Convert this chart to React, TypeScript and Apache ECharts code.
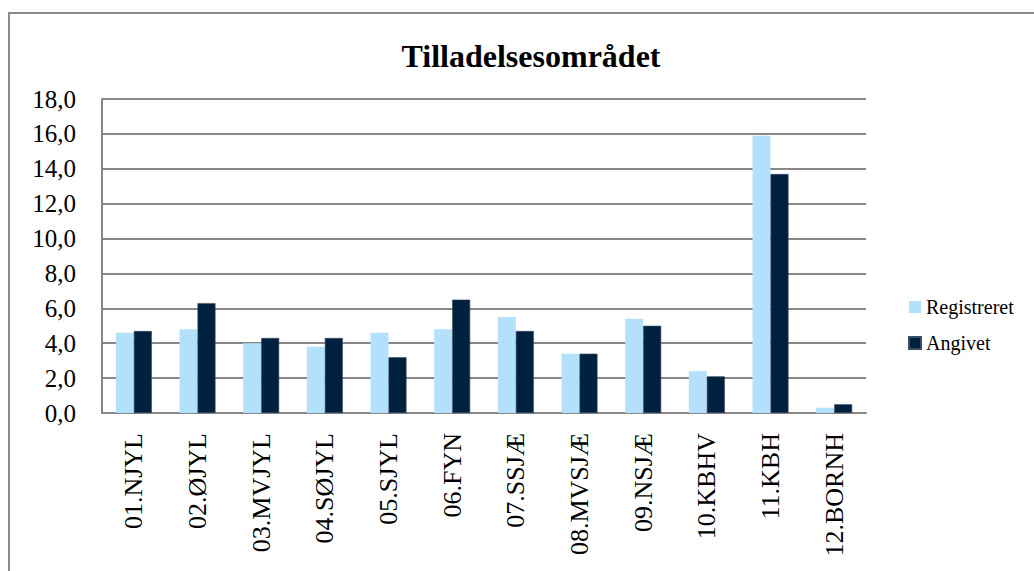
import React, { useEffect, useRef } from "react";
import * as echarts from "echarts";

const categories = [
  "01.NJYL",
  "02.ØJYL",
  "03.MVJYL",
  "04.SØJYL",
  "05.SJYL",
  "06.FYN",
  "07.SSJÆ",
  "08.MVSJÆ",
  "09.NSJÆ",
  "10.KBHV",
  "11.KBH",
  "12.BORNH",
];
const registreret = [4.6, 4.8, 4.0, 3.8, 4.6, 4.8, 5.5, 3.4, 5.4, 2.4, 15.9, 0.3];
const angivet = [4.7, 6.3, 4.3, 4.3, 3.2, 6.5, 4.7, 3.4, 5.0, 2.1, 13.7, 0.5];
const seriesNames = ["Registreret", "Angivet"];
const titleText = "Tilladelsesområdet";
const yMin = 0;
const yMax = 18;
const yInterval = 2;

const SERIF = "Liberation Serif";

export default function App() {
  const ref = useRef<HTMLDivElement>(null);
  useEffect(() => {
    if (!ref.current) return;
    const chart = echarts.init(ref.current, null, { renderer: "svg" });
    chart.setOption({
      animation: false,
      backgroundColor: "#ffffff",
      textStyle: { fontFamily: SERIF },
      title: {
        text: titleText,
        left: 526,
        textAlign: "center",
        top: 35,
        textStyle: {
          fontFamily: SERIF,
          fontWeight: "bold",
          fontSize: 32,
          color: "#000",
        },
      },
      legend: {
        orient: "vertical",
        left: 903,
        top: 292,
        itemWidth: 12,
        itemHeight: 12,
        itemGap: 16,
        icon: "rect",
        data: seriesNames,
        textStyle: {
          fontFamily: SERIF,
          fontSize: 20,
          color: "#000",
        },
      },
      grid: {
        left: 102,
        right: 168,
        top: 99,
        height: 314,
        containLabel: false,
      },
      xAxis: {
        type: "category",
        data: categories,
        axisLine: { show: true, lineStyle: { color: "#878787", width: 2 } },
        axisTick: { show: false },
        axisLabel: {
          rotate: 90,
          interval: 0,
          margin: 20,
          fontFamily: SERIF,
          fontSize: 26,
          color: "#000",
        },
      },
      yAxis: {
        type: "value",
        min: yMin,
        max: yMax,
        interval: yInterval,
        axisLine: { show: true, lineStyle: { color: "#878787", width: 2 } },
        axisTick: { show: false },
        splitLine: { show: true, lineStyle: { color: "#878787", width: 2 } },
        axisLabel: {
          margin: 26,
          fontFamily: SERIF,
          fontSize: 25,
          color: "#000",
          formatter: (v: number) => v.toFixed(1).replace(".", ","),
        },
      },
      series: [
        {
          name: seriesNames[0],
          type: "bar",
          data: registreret,
          barWidth: 18,
          barGap: "0%",
          itemStyle: { color: "#B3E1FC" },
        },
        {
          name: seriesNames[1],
          type: "bar",
          data: angivet,
          barWidth: 18,
          barGap: "0%",
          itemStyle: { color: "#00203F", borderColor: "#3a4d62", borderWidth: 0.6 },
        },
      ],
      graphic: [
        {
          type: "rect",
          shape: { x: 9, y: 13, width: 1040, height: 600 },
          style: { fill: "none", stroke: "#8a8a8a", lineWidth: 2 },
          silent: true,
        },
      ],
    });
    return () => chart.dispose();
  }, []);
  return (
    <div
      ref={ref}
      style={{ position: "fixed", left: 0, top: 0, width: 1034, height: 571 }}
    />
  );
}
